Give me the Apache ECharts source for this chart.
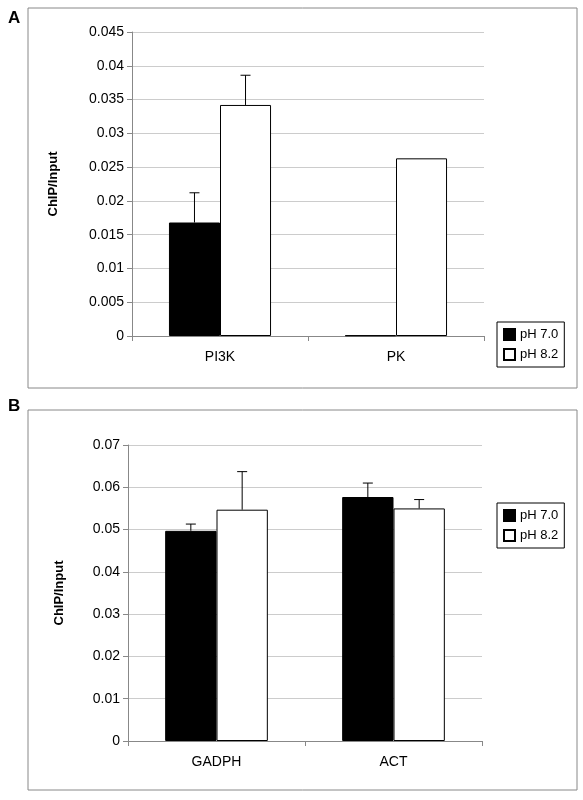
<!DOCTYPE html><html><head><meta charset="utf-8"><script src="https://cdn.jsdelivr.net/npm/echarts@6/dist/echarts.min.js"></script></head><body style="margin:0;background:#fff"><div id="c" style="width:583px;height:800px"></div><script>
const catsA=['PI3K','PK'];
const a70=[0.0168,0.0001];const a70err=[0.0044,0];
const a82=[0.0342,0.0263];const a82err=[0.0044,0];
const catsB=['GADPH','ACT'];
const b70=[0.0497,0.0577];const b70err=[0.0016,0.0033];
const b82=[0.0547,0.0550];const b82err=[0.0090,0.0021];
const ch=echarts.init(document.getElementById('c'));
function err(vals,errs,xi,yi,idx){
  return {type:'custom',xAxisIndex:xi,yAxisIndex:yi,z:5,data:vals.map((v,i)=>[i,v,v+errs[i]]),
  renderItem:(p,api)=>{const i=api.value(0);if(!errs[i])return;const bw=api.size([1,0])[0]*0.29;
    const c=api.coord([i,api.value(1)]);const t=api.coord([i,api.value(2)]);const x=c[0]+(idx?bw/2:-bw/2);
    return {type:'group',children:[{type:'line',shape:{x1:x,y1:c[1],x2:x,y2:t[1]},style:{stroke:'#000',lineWidth:1}},
    {type:'line',shape:{x1:x-5,y1:t[1],x2:x+5,y2:t[1]},style:{stroke:'#000',lineWidth:1}}]};}};
}
const ax={axisLine:{show:true,lineStyle:{color:'#888'}},axisTick:{show:true,lineStyle:{color:'#888'}},axisLabel:{color:'#000',fontSize:14,fontFamily:'Liberation Sans'}};
const gl={show:true,lineStyle:{color:'#ccc'}};
const nm={fontWeight:'bold',fontSize:13,fontFamily:'Liberation Sans',color:'#000'};
const bar=(n,d,xi,col)=>({type:'bar',name:n,data:d,xAxisIndex:xi,yAxisIndex:xi,barGap:'0%',barCategoryGap:'42%',itemStyle:{color:col,borderColor:'#000',borderWidth:1}});
const leg=(top)=>({top:top,left:497,orient:'vertical',icon:'rect',itemWidth:11,itemHeight:11,itemGap:7,padding:[6,6],borderColor:'#000',borderWidth:1,
  textStyle:{fontSize:13,fontFamily:'Liberation Sans',color:'#000'},data:['pH 7.0','pH 8.2']});
ch.setOption({animation:false,
 graphic:[{type:'rect',shape:{x:28,y:8,width:549,height:380},style:{fill:'none',stroke:'#888'}},
  {type:'rect',shape:{x:28,y:410,width:549,height:380},style:{fill:'none',stroke:'#888'}},
  {type:'text',left:8,top:10,style:{text:'A',font:'bold 17px Liberation Sans'}},
  {type:'text',left:8,top:398,style:{text:'B',font:'bold 17px Liberation Sans'}}],
 legend:[leg(322),leg(503)],
 grid:[{left:132,width:352,top:32,height:304},{left:128,width:354,top:445,height:296}],
 xAxis:[{type:'category',data:catsA,gridIndex:0,...ax,axisLabel:{...ax.axisLabel,margin:14}},
        {type:'category',data:catsB,gridIndex:1,...ax,axisLabel:{...ax.axisLabel,margin:14}}],
 yAxis:[{type:'value',gridIndex:0,min:0,max:0.045,interval:0.005,...ax,splitLine:gl,name:'ChIP/Input',nameLocation:'middle',nameGap:72,nameTextStyle:nm},
        {type:'value',gridIndex:1,min:0,max:0.07,interval:0.01,...ax,splitLine:gl,name:'ChIP/Input',nameLocation:'middle',nameGap:62,nameTextStyle:nm}],
 series:[bar('pH 7.0',a70,0,'#000'),bar('pH 8.2',a82,0,'#fff'),bar('pH 7.0',b70,1,'#000'),bar('pH 8.2',b82,1,'#fff'),
  err(a70,a70err,0,0,0),err(a82,a82err,0,0,1),err(b70,b70err,1,1,0),err(b82,b82err,1,1,1)]
});
</script></body></html>
